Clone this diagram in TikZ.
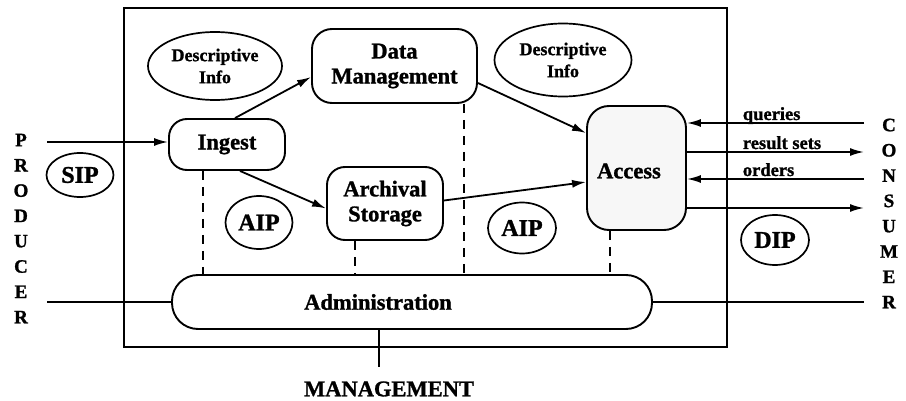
\documentclass[tikz,border=0pt]{standalone}
\usepackage{fontspec}
\setmainfont[BoldFeatures={FakeBold=1.2}]{Liberation Serif}
\usetikzlibrary{arrows.meta,calc,shapes.geometric}

\begin{document}
\begin{tikzpicture}[x=1pt,y=-1pt,
  line width=1.8pt,
  box/.style={draw, line width=1.9pt, align=center, inner sep=0pt, fill=white,
              font=\fontsize{22.5}{25}\selectfont\bfseries},
  ell/.style={draw, ellipse, line width=1.7pt, align=center, inner sep=0pt,
              font=\fontsize{24}{25}\selectfont\bfseries},
  descell/.style={ell, font=\fontsize{18}{22}\selectfont\bfseries},
  arr/.style={-{Latex[length=14pt,width=8pt]}, line width=1.8pt},
  dsh/.style={line width=1.7pt, dash pattern=on 9pt off 7pt},
  lbl/.style={inner sep=0pt, font=\fontsize{18.5}{18}\selectfont\bfseries},
  letter/.style={inner sep=0pt, font=\fontsize{19}{19}\selectfont\bfseries},
  plain/.style={inner sep=0pt, font=\fontsize{22.5}{25}\selectfont\bfseries},
]
\useasboundingbox (0,0) rectangle (906,401);

% system frame
\node[draw, line width=2pt, minimum width=603pt, minimum height=339pt, inner sep=0pt]
  (frame) at (425.5,177.5) {};

% functional entities
\node[box, rounded corners=18pt, minimum width=116pt, minimum height=51pt] (ingest) at (227,144.5) {Ingest};
\node[box, rounded corners=20pt, minimum width=165pt, minimum height=74pt] (dm) at (394.5,66) {Data\\Management};
\node[box, rounded corners=18pt, minimum width=116pt, minimum height=73pt] (arch) at (385,203.5) {Archival\\Storage};
\node[box, rounded corners=22pt, minimum width=99pt, minimum height=124pt, fill=gray!6] (access) at (636.5,168) {};
\node[plain] (accesstext) at (629,171) {Access};
\node[box, rounded corners=26pt, minimum width=480pt, minimum height=54pt] (admin) at (412,302) {};
\node[plain] (admintext) at (378,302) {Administration};

% information packages
\node[descell, minimum width=134pt, minimum height=68pt] (desc1) at (215,66) {Descriptive\\Info};
\node[descell, minimum width=137pt, minimum height=73pt] (desc2) at (563,60) {Descriptive\\Info};
\node[ell, minimum width=67pt, minimum height=44pt] (sip) at (80,175) {SIP};
\node[ell, minimum width=67pt, minimum height=53pt] (aip1) at (259,222.5) {AIP};
\node[ell, minimum width=68pt, minimum height=51pt] (aip2) at (522,228) {AIP};
\node[ell, minimum width=68pt, minimum height=50pt] (dip) at (775,240) {DIP};

% internal flows
\draw[arr] ($(ingest.north)+(8,0)$) -- ($(dm.west)+(0,11)$);
\draw[arr] ($(ingest.south)+(13,0)$) -- ($(arch.west)+(0,5)$);
\draw[arr] ($(dm.east)+(0,17)$) -- ($(access.west)+(0,-35)$);
\draw[arr] ($(arch.east)+(0,-3)$) -- ($(access.west)+(0,14)$);

% links to administration
\coordinate (d1) at (203,0);
\coordinate (d2) at (355,0);
\coordinate (d3) at (464,0);
\coordinate (d4) at (610,0);
\draw[dsh] (ingest.south -| d1) -- (admin.north -| d1);
\draw[dsh] (arch.south -| d2) -- (admin.north -| d2);
\draw[dsh] (dm.south -| d3) -- (admin.north -| d3);
\draw[dsh] (access.south -| d4) -- (admin.north -| d4);

% producer side
\coordinate (p1) at (47,142);
\coordinate (p2) at (47,302);
\draw[arr] (p1) -- (p1 -| ingest.west);
\draw (p2) -- (admin.west);
\foreach \c [count=\i from 0] in {P,R,O,D,U,C,E,R}
  \node[letter] (prod\i) at (21,140+25.3*\i) {\c};

% consumer side
\coordinate (c1) at (864,123);
\coordinate (c2) at (864,152);
\coordinate (c3) at (864,179);
\coordinate (c4) at (864,208);
\coordinate (c5) at (864,302);
\draw[arr] (c1) -- (c1 -| access.east);
\draw[arr] (c2 -| access.east) -- (c2);
\draw[arr] (c3) -- (c3 -| access.east);
\draw[arr] (c4 -| access.east) -- (c4);
\draw (admin.east) -- (c5);
\node[lbl, anchor=base west] (lq) at (742,120) {queries};
\node[lbl, anchor=base west] (lr) at (742,149) {result sets};
\node[lbl, anchor=base west] (lo) at (742,176) {orders};
\foreach \c [count=\i from 0] in {C,O,N,S,U,M,E,R}
  \node[letter] (cons\i) at (889,125+25.3*\i) {\c};

% management
\coordinate (mg) at (379,367);
\draw (mg |- admin.south) -- (mg);
\node[plain] (mgtext) at (389,389) {MANAGEMENT};
\end{tikzpicture}
\end{document}
